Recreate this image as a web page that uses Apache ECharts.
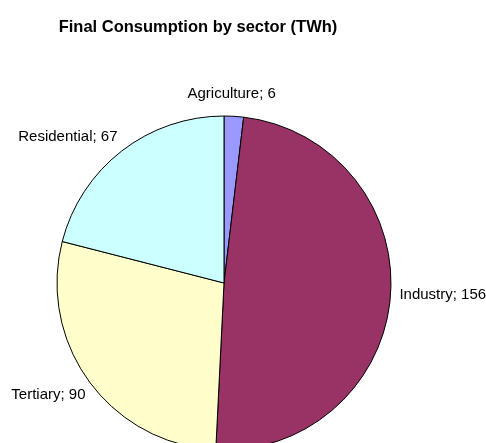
<!DOCTYPE html>
<html>
<head>
<meta charset="utf-8">
<script src="https://cdn.jsdelivr.net/npm/echarts@6/dist/echarts.min.js"></script>
<style>
html,body{margin:0;padding:0;background:#fff;}
#chart{width:486px;height:443px;}
</style>
</head>
<body>
<div id="chart"></div>
<script>
const categories = ['Agriculture', 'Industry', 'Tertiary', 'Residential'];
const values = [6, 156, 90, 67];
const colors = ['#9999FF', '#993366', '#FFFFCC', '#CCFFFF'];

const chart = echarts.init(document.getElementById('chart'), null, {renderer: 'canvas'});
chart.setOption({
  animation: false,
  backgroundColor: '#ffffff',
  title: {
    text: 'Final Consumption by sector (TWh)',
    left: 193, textAlign: 'center', top: 14,
    textStyle: {fontFamily: 'Liberation Sans, Arial, sans-serif', fontWeight: 'bold', fontSize: 16.5, color: '#000'}
  },
  series: [{
    type: 'pie',
    center: [224, 283],
    radius: 167,
    startAngle: 90,
    clockwise: true,
    avoidLabelOverlap: false,
    data: categories.map((c, i) => ({name: c, value: values[i], itemStyle: {color: colors[i]}})),
    itemStyle: {borderColor: '#000', borderWidth: 1},
    label: {
      show: true,
      position: 'outside',
      formatter: '{b}; {c}',
      color: '#000',
      fontFamily: 'Liberation Sans, Arial, sans-serif',
      fontSize: 15
    },
    labelLine: {show: false, length: 10, length2: 0},
    labelLayout: function (p) {
      const shifts = [[-52, -12], [-6, -3], [9, 7], [7, -6]];
      const s = shifts[p.dataIndex];
      return {dx: s[0], dy: s[1]};
    },
    emphasis: {disabled: true}
  }]
});
</script>
</body>
</html>
